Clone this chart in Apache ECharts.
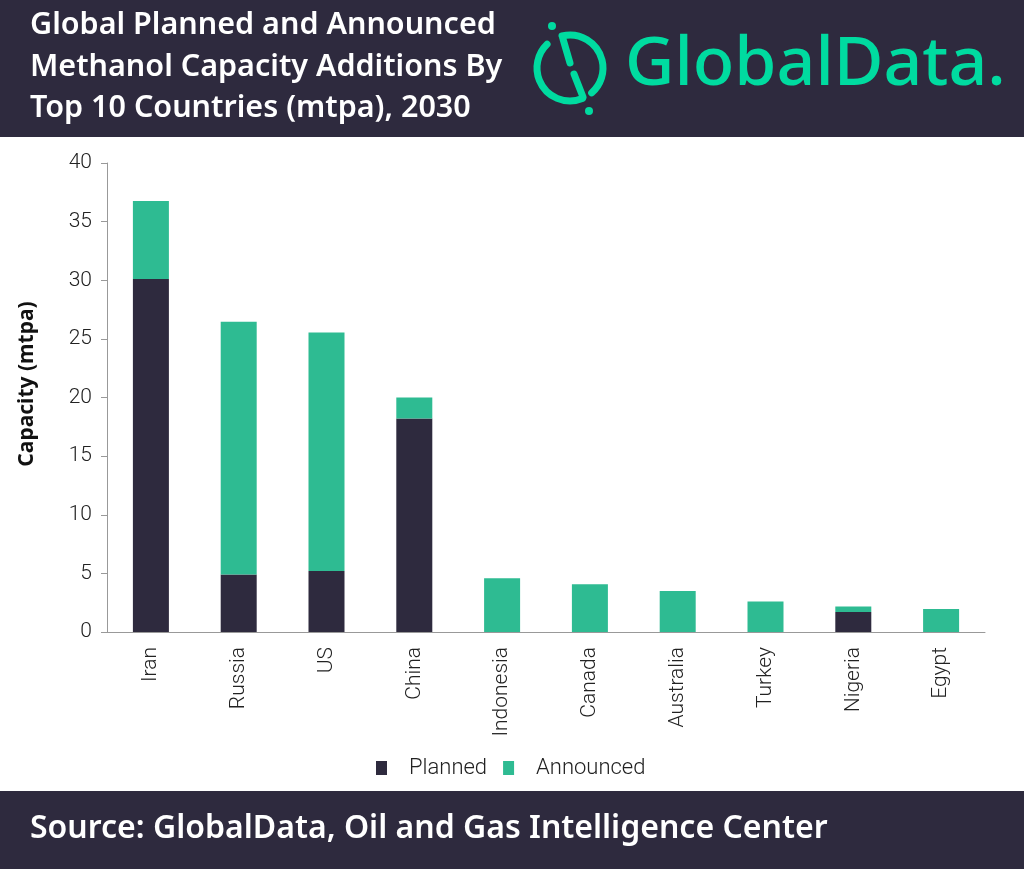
<!DOCTYPE html>
<html>
<head>
<meta charset="utf-8">
<title>Methanol Capacity Additions</title>
<script src="https://cdn.jsdelivr.net/npm/echarts@6/dist/echarts.min.js"></script>
<style>
  html, body { margin: 0; padding: 0; background: #fff; }
  #chart { width: 1024px; height: 869px; }
</style>
</head>
<body>
<div id="chart"></div>
<script>
// data (mtpa)
var countries = ["Iran", "Russia", "US", "China", "Indonesia", "Canada", "Australia", "Turkey", "Nigeria", "Egypt"];
var planned = [30.1, 4.9, 5.2, 18.2, 0, 0, 0, 0, 1.7, 0];
var announced = [6.65, 21.55, 20.35, 1.8, 4.58, 4.07, 3.5, 2.6, 0.47, 1.96];
var yTicks = [0, 5, 10, 15, 20, 25, 30, 35, 40];

var dark = "#2e2a3e";
var green = "#2ebb92";
var brand = "#00dba0";

var myChart = echarts.init(document.getElementById("chart"));

var titleLines = [
  "Global Planned and Announced",
  "Methanol Capacity Additions By",
  "Top 10 Countries (mtpa), 2030"
];
var titleY = [25, 67, 108];

var graphics = [
  { type: "rect", left: 0, top: 0, z: -10, shape: { width: 1024, height: 137 }, style: { fill: dark } },
  { type: "rect", left: 0, top: 791, z: -10, shape: { width: 1024, height: 78 }, style: { fill: dark } },
  {
    type: "text", x: 30, y: 829,
    style: {
      text: "Source: GlobalData, Oil and Gas Intelligence Center",
      fill: "#fff", font: "600 32px 'Noto Sans'", verticalAlign: "middle"
    }
  },
  // y axis title, placed by hand like the original
  {
    type: "text", x: 27, y: 384, rotation: Math.PI / 2,
    style: {
      text: "Capacity (mtpa)", fill: "#111", font: "bold 21px 'Noto Sans'",
      align: "center", verticalAlign: "middle"
    }
  },
  // logo mark
  { type: "arc", shape: { cx: 570, cy: 68, r: 33, startAngle: 68 * Math.PI / 180, endAngle: 226 * Math.PI / 180, clockwise: true },
    style: { stroke: brand, lineWidth: 7, fill: null, lineCap: "round" } },
  { type: "arc", shape: { cx: 570, cy: 68, r: 33, startAngle: -104 * Math.PI / 180, endAngle: 49 * Math.PI / 180, clockwise: true },
    style: { stroke: brand, lineWidth: 7, fill: null, lineCap: "round" } },
  { type: "line", shape: { x1: 563, y1: 39, x2: 570, y2: 63 }, style: { stroke: brand, lineWidth: 7, lineCap: "round" } },
  { type: "line", shape: { x1: 574, y1: 74, x2: 583, y2: 97 }, style: { stroke: brand, lineWidth: 7, lineCap: "round" } },
  { type: "circle", shape: { cx: 552, cy: 26, r: 4 }, style: { fill: brand } },
  { type: "circle", shape: { cx: 589, cy: 111, r: 4 }, style: { fill: brand } },
  {
    type: "text", x: 625, y: 66,
    style: { text: "GlobalData.", fill: brand, font: "500 68px 'Noto Sans'", verticalAlign: "middle" }
  }
];
titleLines.forEach(function (t, i) {
  graphics.push({
    type: "text", x: 30, y: titleY[i],
    style: { text: t, fill: "#fff", font: "600 30.5px 'Noto Sans'", verticalAlign: "middle" }
  });
});

var option = {
  animation: false,
  backgroundColor: "#fff",
  textStyle: { fontFamily: "Roboto" },
  graphic: graphics,
  legend: {
    data: ["Planned", "Announced"],
    left: 371,
    top: 752,
    icon: "rect",
    itemWidth: 11,
    itemHeight: 14,
    itemGap: 16,
    textStyle: { fontSize: 22, fontWeight: 300, color: "#222", padding: [0, 0, 0, 17] }
  },
  grid: { left: 107, right: 39, top: 163, bottom: 237 },
  xAxis: {
    type: "category",
    data: countries,
    axisLine: { lineStyle: { color: "#999" } },
    axisTick: { length: 6, lineStyle: { color: "#999" } },
    axisLabel: { rotate: 90, margin: 15, fontSize: 21, fontWeight: 300, color: "#222" }
  },
  yAxis: {
    type: "value",
    min: 0,
    max: 40,
    interval: 5,
    axisLine: { show: true, lineStyle: { color: "#999" } },
    axisTick: { show: true, length: 6, lineStyle: { color: "#999" } },
    splitLine: { show: false },
    axisLabel: {
      margin: 15, fontSize: 21, fontWeight: 300, color: "#222",
      formatter: function (v) { return yTicks.indexOf(v) >= 0 ? String(v) : ""; }
    }
  },
  series: [
    { name: "Planned", type: "bar", stack: "total", barWidth: 36, data: planned, itemStyle: { color: dark } },
    { name: "Announced", type: "bar", stack: "total", barWidth: 36, data: announced, itemStyle: { color: green } }
  ]
};

myChart.setOption(option);
</script>
</body>
</html>
